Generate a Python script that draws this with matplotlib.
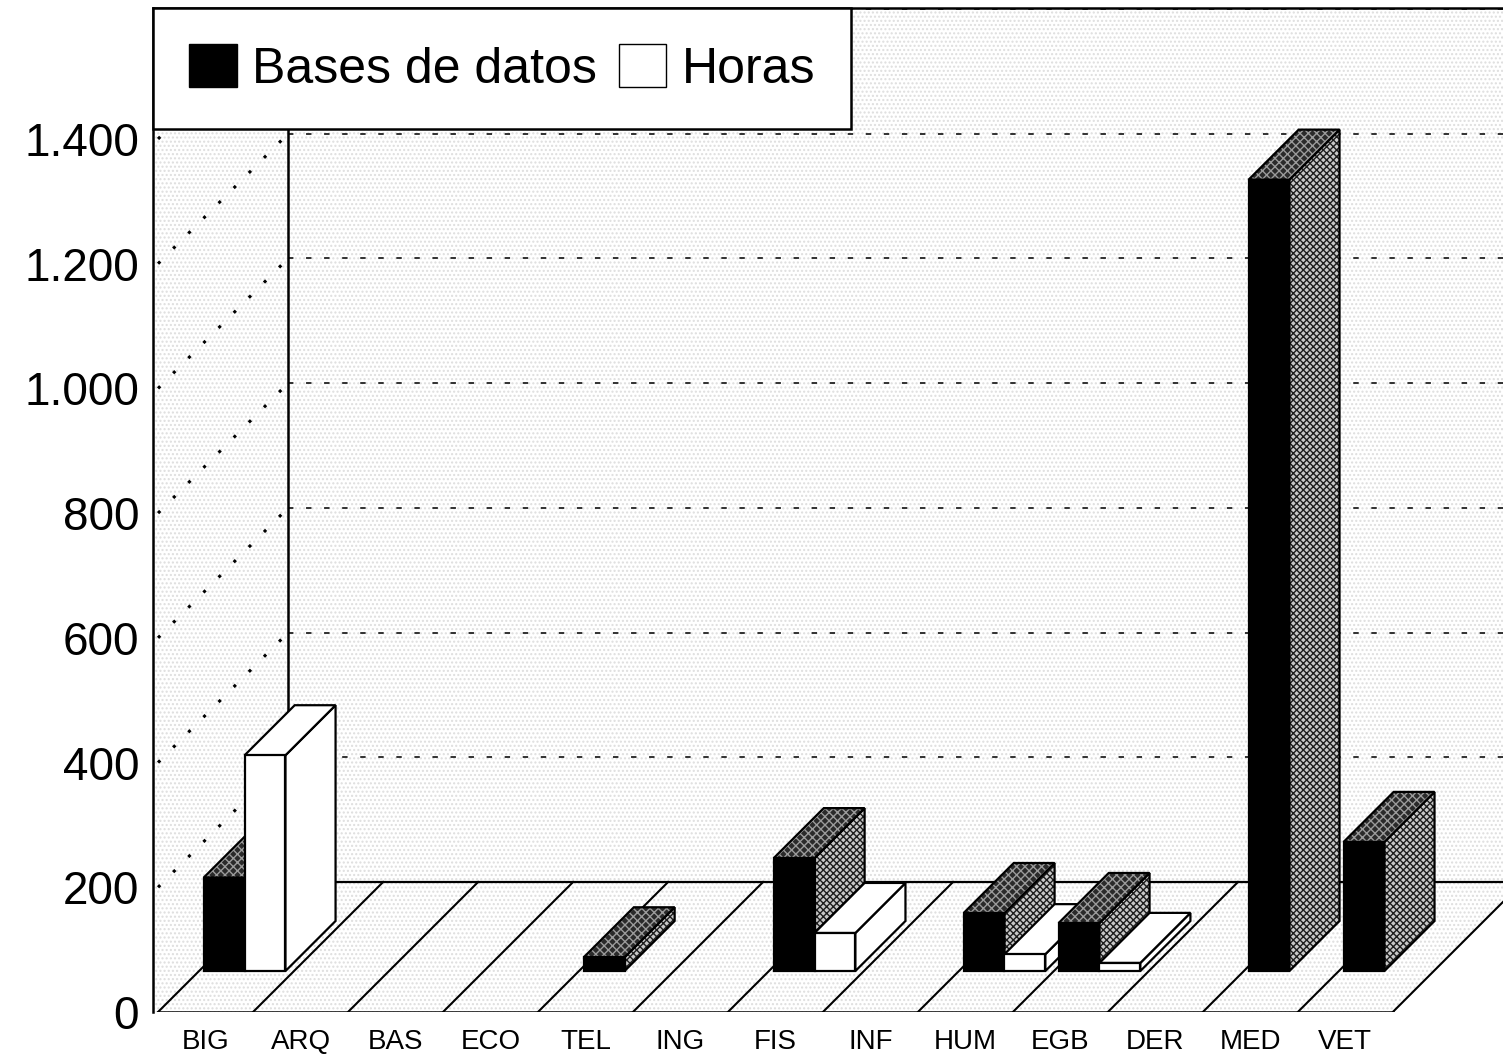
import matplotlib.pyplot as plt
from matplotlib.patches import Polygon, Patch
import numpy as np

plt.rcParams['font.family'] = ['Liberation Sans', 'DejaVu Sans']

# datos
categorias = ["BIG", "ARQ", "BAS", "ECO", "TEL", "ING", "FIS",
              "INF", "HUM", "EGB", "DER", "MED", "VET"]
bases = [150, 0, 0, 0, 22, 0, 181, 0, 93, 77, 0, 1269, 207]
horas = [346, 0, 0, 0, 0, 0, 61, 0, 27, 13, 0, 0, 0]
yticks = [0, 200, 400, 600, 800, 1000, 1200, 1400]

# oblique projection: depth z in [0, 1] shifts by (DU slots, DV units)
DU, DV = 1.37, 208.5
Z0, Z1 = 0.315, 0.70
XMIN, XMAX = -0.053, 14.16
YMAX = 1610

n = len(categorias)


def P(u, v, z=0.0):
    return (u + z * DU, v + z * DV)


def poly(ax, pts, fc, zo, hatch=None, hcolor='black'):
    ax.add_patch(Polygon(pts, closed=True, facecolor=fc, edgecolor='none',
                         lw=0, zorder=zo))
    if hatch:
        ax.add_patch(Polygon(pts, closed=True, facecolor='none',
                             edgecolor=hcolor, lw=0, hatch=hatch, zorder=zo))
    ax.add_patch(Polygon(pts, closed=True, facecolor='none',
                         edgecolor='black', lw=1.6, zorder=zo,
                         joinstyle='miter'))


def caja(ax, u0, u1, h, negra, zo):
    front = [P(u0, 0, Z0), P(u1, 0, Z0), P(u1, h, Z0), P(u0, h, Z0)]
    top = [P(u0, h, Z0), P(u1, h, Z0), P(u1, h, Z1), P(u0, h, Z1)]
    side = [P(u1, 0, Z0), P(u1, 0, Z1), P(u1, h, Z1), P(u1, h, Z0)]
    if negra:
        poly(ax, side, '#c8c8c8', zo, hatch='xxxxx', hcolor='#1e1e1e')
        poly(ax, top, '#2a2a2a', zo, hatch='xxxx', hcolor='#9a9a9a')
        poly(ax, front, 'black', zo)
    else:
        poly(ax, side, 'white', zo)
        poly(ax, top, 'white', zo)
        poly(ax, front, 'white', zo)


fig = plt.figure(figsize=(15.03, 10.55), dpi=100)
ax = fig.add_axes([153 / 1503, 43 / 1055, 1350 / 1503, 1004 / 1055])
ax.set_xlim(XMIN, XMAX)
ax.set_ylim(0, YMAX)

# paredes y suelo con trama de puntos suave
tex = dict(facecolor='white', edgecolor='#dedede', lw=0, hatch='....', zorder=0)
ax.add_patch(Polygon([P(0, 0, 1), (XMAX, DV), (XMAX, YMAX), (DU, YMAX)], **tex))
ax.add_patch(Polygon([(XMIN, 0), (0, 0), P(0, 0, 1), (DU, YMAX), (XMIN, YMAX)], **tex))
ax.add_patch(Polygon([(0, 0), (n, 0), P(n, 0, 1), P(0, 0, 1)], **tex))

# lineas de rejilla
for v in yticks[1:]:
    ax.plot([DU, XMAX], [v + DV, v + DV], color='#222222', lw=1.3,
            ls=(0, (3, 7)), zorder=1)
    ax.plot([0, DU], [v, v + DV], color='black', lw=2.2,
            ls=(0, (1.0, 6)), zorder=1)

ax.plot([DU, DU], [DV, YMAX], color='black', lw=1.8, zorder=2)
ax.plot([DU, XMAX], [DV, DV], color='black', lw=1.6, zorder=2)
ax.plot([0, n], [0, 0], color='black', lw=1.8, zorder=2)
for k in range(n + 1):
    ax.plot([k, k + DU], [0, DV], color='black', lw=1.5, zorder=2)

# barras
zo = 3
for k in range(n):
    if bases[k] > 0:
        caja(ax, k + 0.05, k + 0.48, bases[k], True, zo)
        zo += 1
    if horas[k] > 0:
        caja(ax, k + 0.48, k + 0.91, horas[k], False, zo)
        zo += 1

ax.set_yticks(yticks)
ax.set_yticklabels([f"{v:,}".replace(",", ".") for v in yticks])
ax.set_xticks(np.arange(n) + 0.5)
ax.set_xticklabels(categorias)
ax.tick_params(axis='y', length=0, pad=10, labelsize=33)
ax.tick_params(axis='x', length=0, pad=12, labelsize=20)
for s in ['right', 'bottom']:
    ax.spines[s].set_visible(False)
for s in ['left', 'top']:
    ax.spines[s].set_linewidth(1.8)
    ax.spines[s].set_zorder(50)

handles = [Patch(facecolor='black', edgecolor='black'),
           Patch(facecolor='white', edgecolor='black')]
leg = ax.legend(handles, ["Bases de datos", "Horas"], loc='upper left',
                bbox_to_anchor=(0, 1), borderaxespad=0, ncol=2, fontsize=36,
                frameon=True, fancybox=False, edgecolor='black', framealpha=1,
                handlelength=0.95, handleheight=0.95, handletextpad=0.3,
                columnspacing=0.45, borderpad=0.72)
leg.get_frame().set_linewidth(1.8)
leg.set_zorder(100)

fig.savefig("out.png", dpi=100)
